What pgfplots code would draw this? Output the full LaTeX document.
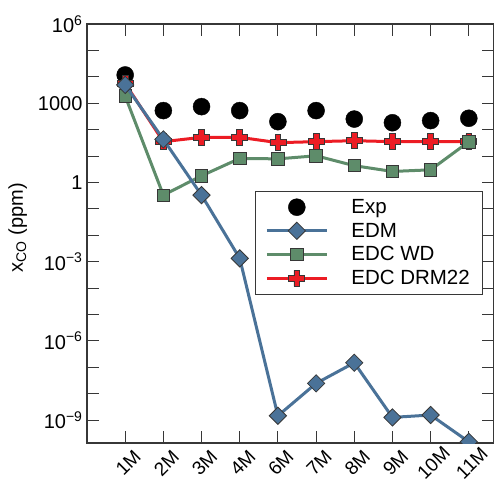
\documentclass[border=0pt]{standalone}
\usepackage{fontspec}
\setmainfont{Liberation Sans}
\usepackage{pgfplots}
\pgfplotsset{compat=1.18}
\usetikzlibrary{calc}

\definecolor{edmblue}{RGB}{74,114,152}
\definecolor{wdgreen}{RGB}{94,140,106}
\definecolor{drmred}{RGB}{236,28,36}
\definecolor{axgray}{RGB}{55,55,55}

% thick filled plus for the DRM22 series
\pgfdeclareplotmark{fatplus}{%
  \pgfpathmoveto{\pgfqpoint{-0.36\pgfplotmarksize}{\pgfplotmarksize}}%
  \pgfpathlineto{\pgfqpoint{0.36\pgfplotmarksize}{\pgfplotmarksize}}%
  \pgfpathlineto{\pgfqpoint{0.36\pgfplotmarksize}{0.36\pgfplotmarksize}}%
  \pgfpathlineto{\pgfqpoint{\pgfplotmarksize}{0.36\pgfplotmarksize}}%
  \pgfpathlineto{\pgfqpoint{\pgfplotmarksize}{-0.36\pgfplotmarksize}}%
  \pgfpathlineto{\pgfqpoint{0.36\pgfplotmarksize}{-0.36\pgfplotmarksize}}%
  \pgfpathlineto{\pgfqpoint{0.36\pgfplotmarksize}{-\pgfplotmarksize}}%
  \pgfpathlineto{\pgfqpoint{-0.36\pgfplotmarksize}{-\pgfplotmarksize}}%
  \pgfpathlineto{\pgfqpoint{-0.36\pgfplotmarksize}{-0.36\pgfplotmarksize}}%
  \pgfpathlineto{\pgfqpoint{-\pgfplotmarksize}{-0.36\pgfplotmarksize}}%
  \pgfpathlineto{\pgfqpoint{-\pgfplotmarksize}{0.36\pgfplotmarksize}}%
  \pgfpathlineto{\pgfqpoint{-0.36\pgfplotmarksize}{0.36\pgfplotmarksize}}%
  \pgfpathclose
  \pgfusepathqfillstroke
}

\pgfplotstableread{
x   exp     edm      wd      drm
1   11750   4900     1860    5600
2   525     42.7     0.33    35
3   741     0.33     1.78    51
4   525     1.33e-3  8.1     51
5   200     1.45e-9  7.8     32
6   525     2.45e-8  10.2    35
7   251     1.48e-7  4.3     38
8   182     1.26e-9  2.6     35
9   219     1.55e-9  3.0     35
10  269     1.5e-10  34.7    35
}\datatable

\begin{document}
\begin{tikzpicture}
\begin{axis}[
  name=ax,
  scale only axis,
  width=407pt, height=419pt,
  ymode=log,
  ymin=1.35e-10, ymax=1e6,
  xmin=0, xmax=10.66,
  axis line style={axgray, line width=1.2pt},
  xtick={1,...,10},
  xticklabels={1M,2M,3M,4M,6M,7M,8M,9M,10M,11M},
  ytick={1e-9,1e-6,1e-3,1,1e3,1e6},
  yticklabels={10\textsuperscript{−9},10\textsuperscript{−6},10\textsuperscript{−3},1,1000,10\textsuperscript{6}},
  minor ytick={1e-8,1e-7,1e-5,1e-4,1e-2,1e-1,10,100,1e4,1e5},
  tick align=inside,
  major tick length=12pt, minor tick length=12pt,
  tick style={axgray, line width=1pt},
  xtick pos=both, ytick pos=both,
  /pgf/number format/assume math mode=true,
  yticklabel style={font=\fontsize{20}{24}\selectfont, xshift=-1pt},
  xticklabel style={font=\fontsize{19}{22}\selectfont, rotate=45, anchor=center, xshift=-12pt, yshift=-16.3pt},
  ylabel={x\textsubscript{CO} (ppm)},
  ylabel style={font=\fontsize{20}{24}\selectfont, yshift=4pt, xshift=6pt},
  clip marker paths=true,
  legend style={at={(0.9705,0.601)}, anchor=north east, draw=axgray,
    font=\fontsize{20.5}{23}\selectfont, inner xsep=10pt, inner ysep=6pt, row sep=4pt,
    /tikz/every odd column/.append style={column sep=21pt}},
  legend cell align=left,
  legend image code/.code={\draw[mark repeat=2,mark phase=2] plot coordinates {(0pt,0pt)(30pt,0pt)(60pt,0pt)};},
]
% legend entries in the reference order
\addlegendimage{only marks, mark=*, mark size=8.5pt, mark options={fill=black, draw=black}}
\addlegendentry{Exp}
\addlegendimage{edmblue, line width=3pt, mark=square*, mark size=6.1pt, mark options={rotate=45, fill=edmblue, draw=axgray, line width=0.8pt}}
\addlegendentry{EDM}
\addlegendimage{wdgreen, line width=3pt, mark=square*, mark size=6.2pt, mark options={fill=wdgreen, draw=axgray, line width=0.8pt}}
\addlegendentry{EDC WD}
\addlegendimage{drmred, line width=3pt, mark=fatplus, mark size=8pt, mark options={fill=drmred, draw=axgray, line width=0.8pt}}
\addlegendentry{EDC DRM22}

\addplot[forget plot, only marks, mark=*, mark size=8.5pt, mark options={fill=black, draw=black}]
  table[x=x, y=exp] {\datatable};
\addplot[forget plot, drmred, line width=3pt, mark=fatplus, mark size=8pt, mark options={fill=drmred, draw=axgray, line width=0.8pt}]
  table[x=x, y=drm] {\datatable};
\addplot[forget plot, wdgreen, line width=3pt, mark=square*, mark size=6.2pt, mark options={fill=wdgreen, draw=axgray, line width=0.8pt}]
  table[x=x, y=wd] {\datatable};
\addplot[forget plot, edmblue, line width=3pt, mark=square*, mark size=6.1pt, mark options={rotate=45, fill=edmblue, draw=axgray, line width=0.8pt}]
  table[x=x, y=edm] {\datatable};
\end{axis}
\pgfresetboundingbox
\path ($(ax.south west)+(-87pt,-41pt)$) rectangle ($(ax.north east)+(0pt,24pt)$);
\end{tikzpicture}
\end{document}
